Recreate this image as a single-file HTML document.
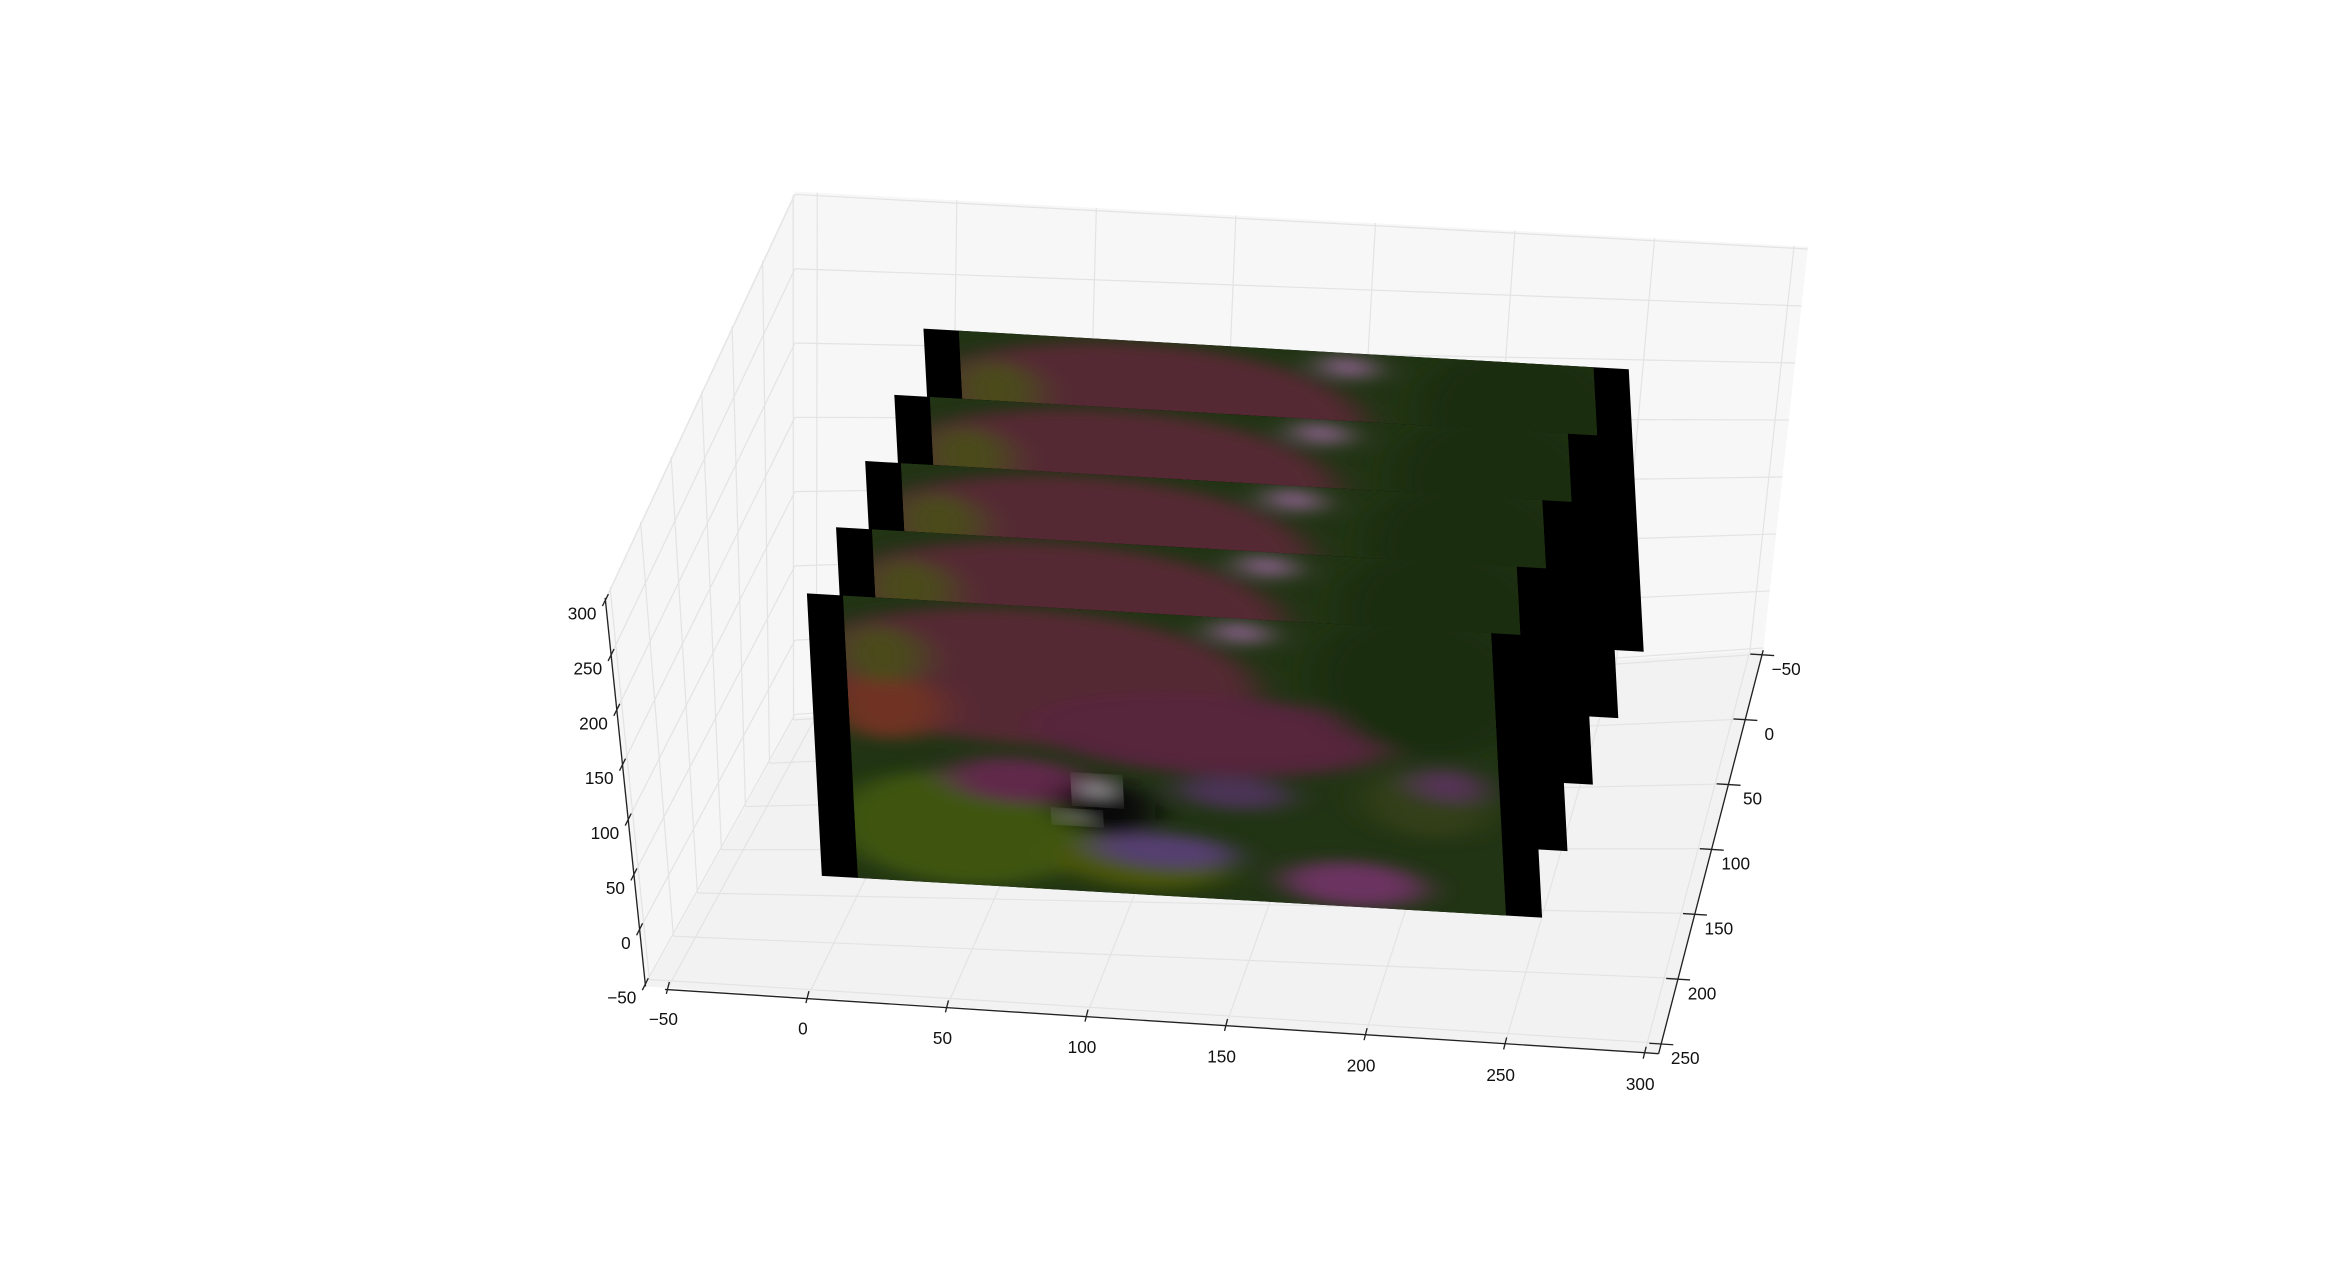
<!DOCTYPE html>
<html><head><meta charset="utf-8"><style>
html,body{margin:0;padding:0;background:#fff;}
svg{display:block;font-family:"Liberation Sans",sans-serif;}
</style></head><body>
<svg id="chart" width="2343" height="1272" viewBox="0 0 1568 851" xmlns="http://www.w3.org/2000/svg">
<defs>
<filter id="blur" x="-10%" y="-10%" width="120%" height="120%"><feGaussianBlur stdDeviation="2.5"/></filter>
<pattern id="dots" width="1.1" height="1.1" patternUnits="userSpaceOnUse"><rect width="1.1" height="1.1" fill="#000" opacity="0.3"/></pattern>
<clipPath id="imgclip"><rect x="5" y="0" width="90" height="100"/></clipPath>
<g id="photo">
<rect x="0" y="0" width="100" height="100" fill="#000"/>
<g clip-path="url(#imgclip)">
<rect x="5" y="0" width="90" height="100" fill="#2f4a1c"/>
<g filter="url(#blur)">
<ellipse cx="30" cy="25" rx="32" ry="24" fill="#7a3a4a"/>
<ellipse cx="55" cy="42" rx="25" ry="14" fill="#7c3656"/>
<ellipse cx="10" cy="38" rx="8" ry="12" fill="#a04a30"/>
<ellipse cx="10" cy="20" rx="6" ry="10" fill="#6a6a28"/>
<ellipse cx="20" cy="80" rx="18" ry="20" fill="#5a7a18"/>
<ellipse cx="45" cy="88" rx="12" ry="10" fill="#6a7a10"/>
<ellipse cx="85" cy="20" rx="15" ry="25" fill="#263f18"/>
<ellipse cx="85" cy="62" rx="9" ry="12" fill="#4a5a20"/>
<ellipse cx="88" cy="55" rx="5" ry="6" fill="#7a4a7a"/>
<ellipse cx="48" cy="84" rx="10" ry="6" fill="#7a5aa0"/>
<ellipse cx="74" cy="92" rx="10" ry="8" fill="#9a4a8a"/>
<ellipse cx="58" cy="62" rx="8" ry="6" fill="#6a4a7a"/>
<ellipse cx="60" cy="5" rx="4" ry="4" fill="#c08ac0"/>
<ellipse cx="28" cy="62" rx="10" ry="8" fill="#8a3a6a"/>
<ellipse cx="40" cy="70" rx="7" ry="10" fill="#0c0c0c"/>
</g>
<ellipse cx="39" cy="64" rx="3" ry="5" fill="#d8d8d8" filter="url(#blur)"/>
<ellipse cx="36" cy="74" rx="3" ry="2.5" fill="#c0c0c0" filter="url(#blur)"/>
<rect x="5" y="0" width="90" height="100" fill="url(#dots)"/>
</g>
</g>
</defs>
<g id="panes"></g>
<g id="grid"></g>
<g id="axes"></g>
<g id="slices"></g>
</svg>
<script>
const xTicks = [-50, 0, 50, 100, 150, 200, 250, 300];
const yTicks = [-50, 0, 50, 100, 150, 200, 250];
const zTicks = [-50, 0, 50, 100, 150, 200, 250, 300];
const sliceDepths = [200, 150, 100, 50, 0];
const xRange = [-58, 305];
const yRange = [-53, 258];
const zRange = [-52, 302];

const NS = "http://www.w3.org/2000/svg";
const FBL=[432,660], FBR=[1110,705], BBL=[532,480], BBR=[1180,435], BTL=[532,128], BTR=[1210,165], FTL=[405,400];
const lerp=(a,b,t)=>[a[0]+(b[0]-a[0])*t,a[1]+(b[1]-a[1])*t];
const fx=v=>(v-xRange[0])/(xRange[1]-xRange[0]);
const fy=v=>(v-yRange[0])/(yRange[1]-yRange[0]);
const fz=v=>(v-zRange[0])/(zRange[1]-zRange[0]);
function mk(tag, attrs, parent){const e=document.createElementNS(NS,tag);for(const k in attrs)e.setAttribute(k,attrs[k]);parent.appendChild(e);return e;}
const panes=document.getElementById('panes'), grid=document.getElementById('grid'), axes=document.getElementById('axes'), slices=document.getElementById('slices');
const pts=a=>a.map(p=>p.join(',')).join(' ');
let p;
p=mk('polygon',{points:pts([FBL,FTL,BTL,BBL]),fill:'#f6f6f6'},panes);


p=mk('polygon',{points:pts([BBL,BTL,BTR,BBR]),fill:'#f7f7f7'},panes);


p=mk('polygon',{points:pts([FBL,BBL,BBR,FBR]),fill:'#f2f2f2'},panes);


function gl(a,b){const l=mk('line',{x1:a[0],y1:a[1],x2:b[0],y2:b[1],stroke:'#e3e3e3','stroke-width':0.8},grid);

}
xTicks.forEach(v=>{const t=fx(v);gl(lerp(FBL,FBR,t),lerp(BBL,BBR,t));gl(lerp(BBL,BBR,t),lerp(BTL,BTR,t));});
yTicks.forEach(v=>{const t=fy(v);gl(lerp(BBL,FBL,t),lerp(BBR,FBR,t));gl(lerp(BBL,FBL,t),lerp(BTL,FTL,t));});
zTicks.forEach(v=>{const t=fz(v);gl(lerp(FBL,FTL,t),lerp(BBL,BTL,t));gl(lerp(BBL,BTL,t),lerp(BBR,BTR,t));});
function al(a,b,name){const l=mk('line',{x1:a[0],y1:a[1],x2:b[0],y2:b[1],stroke:'#222','stroke-width':0.9},axes);

}
al([445,662],FBR,'x-axis-line');al(FBR,BBR,'y-axis-line');al(FBL,FTL,'z-axis-line');
function label(txt,x,y,anchor,name){const t=mk('text',{x:x,y:y,'font-size':11.5,fill:'#111','text-anchor':anchor},axes);t.textContent=txt;

}
xTicks.forEach(v=>{const q=lerp([432,660],FBR,fx(v));al([q[0]+1,q[1]-4],[q[0]-1,q[1]+4],'x-tick');label(String(v).replace('-','\u2212'),q[0]-3,q[1]+25,'middle','x-tick-label');});
yTicks.forEach(v=>{const q=lerp(BBR,FBR,fy(v));al([q[0]-8,q[1]],[q[0]+8,q[1]+1],'y-tick');label(String(v).replace('-','\u2212'),q[0]+16,q[1]+14,'middle','y-tick-label');});
zTicks.forEach(v=>{const q=lerp(FBL,FTL,fz(v));al([q[0]-2,q[1]+4],[q[0]+2,q[1]-4],'z-tick');label(String(v).replace('-','\u2212'),q[0]-6,q[1]+13,'end','z-tick-label');});
const FTLs=[540,397], FTRs=[1022,425], FBLs=[550,586];
const shiftL=[19.5,-44.3], shiftR=[17,-44.5];
const step=50;
sliceDepths.forEach(d=>{const k=d/step;
 const o=[FTLs[0]+shiftL[0]*k, FTLs[1]+shiftL[1]*k];
 const tr=[FTRs[0]+shiftR[0]*k, FTRs[1]+shiftR[1]*k];
 const bl=[FBLs[0]+shiftL[0]*k, FBLs[1]+shiftL[1]*k];
 const a=(tr[0]-o[0])/100,b=(tr[1]-o[1])/100,c=(bl[0]-o[0])/100,dd=(bl[1]-o[1])/100;
 const u=mk('use',{href:'#photo',transform:`matrix(${a},${b},${c},${dd},${o[0]},${o[1]})`},slices);
 
 
});
</script>
</body></html>
